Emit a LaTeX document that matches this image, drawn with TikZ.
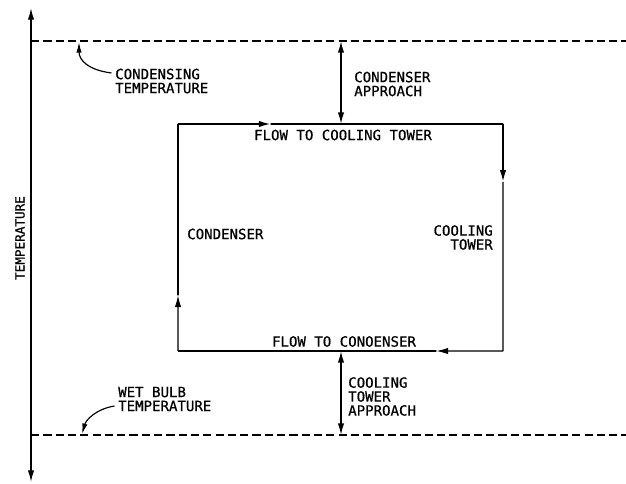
\documentclass[tikz,border=0pt]{standalone}
\usepackage{fontspec}
\newfontfamily\plotfont[FakeBold=0.7]{DejaVu Sans Mono}
\usetikzlibrary{positioning, arrows.meta, calc}

\tikzset{
    tip/.style={Latex[length=10pt,width=5.5pt]},
    thick flow/.style={line width=1.5pt},
    thin flow/.style={line width=0.95pt},
    flow tip/.style={-{Latex[length=10pt,width=5.5pt]}, #1},
    level line/.style={dash pattern=on 7pt off 3.5pt, line width=1pt},
    approach/.style={{Latex[length=10pt,width=5.5pt]}-{Latex[length=10pt,width=5.5pt]}, line width=1.3pt},
    callout/.style={-{Latex[length=9pt,width=4.5pt]}, line width=1pt},
    plot text/.style={font=\plotfont\fontsize{12}{11.9}\selectfont, inner sep=0pt, align=#1},
    plot text/.default=left,
}

\begin{document}
\begin{tikzpicture}[x=0.03cm, y=-0.03cm]

\useasboundingbox (0,0) rectangle (626,484);

% ── AXIS AND TEMPERATURE LEVELS ──────────────────────────────────

\coordinate (axis-top) at (31,8);
\coordinate (axis-bottom) at (31,482);
\coordinate (cond-left) at (31,41);
\coordinate (cond-right) at (626,41);
\coordinate (wb-left) at (31,435);
\coordinate (wb-right) at (626,435);

\draw[{Latex[length=10pt,width=5.5pt]}-{Latex[length=10pt,width=5.5pt]}, line width=1.2pt] (axis-bottom) -- (axis-top);
\node[plot text, rotate=90, font=\plotfont\fontsize{10.8}{11}\selectfont] (tempLabel) at (20,238) {TEMPERATURE};

\draw[level line] (cond-left) -- (cond-right);
\draw[level line] (wb-left) -- (wb-right);

% ── LOOP (CONDENSER / COOLING TOWER) ─────────────────────────────

\coordinate (tl) at (178,124);
\coordinate (tr) at (503,124);
\coordinate (br) at (503,351);
\coordinate (bl) at (178,351);

% top: flow to cooling tower
\draw[flow tip=thick flow] (tl) -- ($(tl)!0.285!(tr)$) coordinate (top-tip);
\draw[thick flow] (top-tip) -- (tr);
% right: cooling tower
\draw[flow tip=thick flow] (tr) -- ($(tr)!0.255!(br)$) coordinate (right-tip);
\draw[thin flow] (right-tip) -- (br);
% bottom: flow to condenser
\draw[flow tip=thin flow] (br) -- ($(br)!0.205!(bl)$) coordinate (bottom-tip);
\draw[thick flow] (bottom-tip) -- (bl);
% left: condenser
\draw[flow tip=thin flow] (bl) -- ($(bl)!0.245!(tl)$) coordinate (left-tip);
\draw[thick flow] (left-tip) -- (tl);

\node[plot text] (toTower) at (343,135) {FLOW TO COOLING TOWER};
\node[plot text] (toCond) at (344,341.5) {FLOW TO CONOENSER};
\node[plot text, anchor=west] (condenser) at (187,234) {CONDENSER};
\node[plot text=right, anchor=east] (tower) at (493,237.5) {COOLING\\TOWER};

% ── APPROACHES ───────────────────────────────────────────────────

\coordinate (ca-top) at (341,41);
\coordinate (ca-bottom) at (341,124);
\coordinate (ta-top) at (341,351);
\coordinate (ta-bottom) at (341,435);

\draw[approach] (ca-top) -- (ca-bottom);
\draw[approach] (ta-top) -- (ta-bottom);

\node[plot text, anchor=west] (condApproach) at (354,84) {CONDENSER\\APPROACH};
\node[plot text, anchor=west] (towerApproach) at (348,396.5) {COOLING\\TOWER\\APPROACH};

% ── LEVEL CALLOUTS ───────────────────────────────────────────────

\node[plot text, anchor=west] (condTemp) at (115,81) {CONDENSING\\TEMPERATURE};
\node[plot text, anchor=west] (wbTemp) at (118,399) {WET BULB\\TEMPERATURE};

\coordinate (condTemp-tip) at (79,42);
\coordinate (wbTemp-tip) at (82,434);

\draw[callout] ([xshift=-3pt]condTemp.west |- 0,73) .. controls (88,70) and (79,60) .. (condTemp-tip);
\draw[callout] ([xshift=-3pt]wbTemp.west |- 0,406) .. controls (96,409) and (86,420) .. (wbTemp-tip);

\end{tikzpicture}
\end{document}
